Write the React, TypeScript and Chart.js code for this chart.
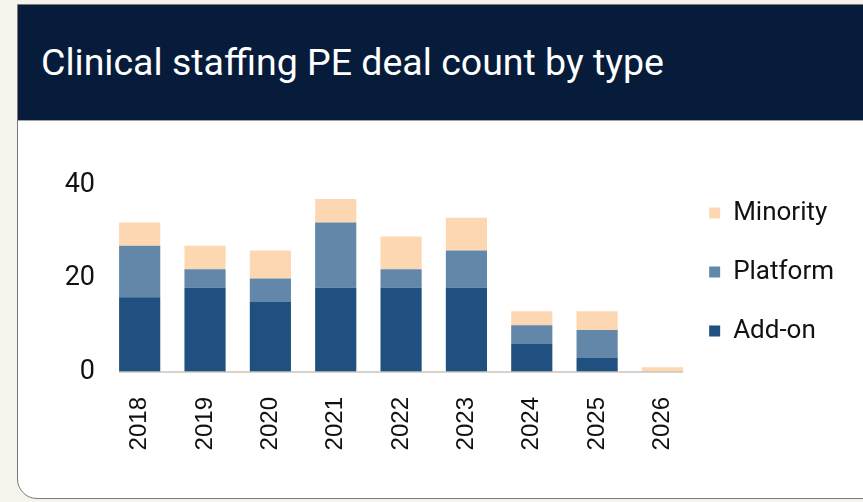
import React, { useEffect, useRef } from "react";
import { Chart, registerables } from "chart.js";

Chart.register(...registerables);

const TITLE = "Clinical staffing PE deal count by type";
const YEARS = ["2018", "2019", "2020", "2021", "2022", "2023", "2024", "2025", "2026"];
const ADD_ON = [16, 18, 15, 18, 18, 18, 6, 3, 0];
const PLATFORM = [11, 4, 5, 14, 4, 8, 4, 6, 0];
const MINORITY = [5, 5, 6, 5, 7, 7, 3, 4, 1];
const Y_TICKS = [0, 20, 40];

const baselinePlugin = {
  id: "baseline",
  afterDatasetsDraw(chart: any) {
    const metas = chart.getSortedVisibleDatasetMetas();
    if (!metas.length) return;
    const els = metas[0].data;
    if (!els.length) return;
    const first = els[0];
    const last = els[els.length - 1];
    const left = first.x - first.width / 2;
    const right = last.x + last.width / 2;
    const y = chart.scales.y.getPixelForValue(0);
    const ctx = chart.ctx;
    ctx.save();
    ctx.strokeStyle = "#c9c4bb";
    ctx.lineWidth = 1.5;
    ctx.beginPath();
    ctx.moveTo(left, y);
    ctx.lineTo(right, y);
    ctx.stroke();
    ctx.restore();
  },
};

const legendShiftPlugin = {
  id: "legendShift",
  afterLayout(chart: any) {
    const lg = chart.legend;
    if (!lg) return;
    const dx = -19;
    const dy = -18;
    lg.left += dx;
    lg.right += dx;
    lg.top += dy;
    lg.bottom += dy;
    if (lg.legendHitBoxes) {
      lg.legendHitBoxes.forEach((b: any) => {
        b.left += dx;
        b.top += dy;
      });
    }
  },
};

export default function App() {
  const ref = useRef<HTMLCanvasElement | null>(null);
  useEffect(() => {
    if (!ref.current) return;
    const chart = new Chart(ref.current, {
      type: "bar",
      data: {
        labels: YEARS,
        datasets: [
          { label: "Add-on", data: ADD_ON, backgroundColor: "#1f5080" },
          { label: "Platform", data: PLATFORM, backgroundColor: "#6287a9" },
          { label: "Minority", data: MINORITY, backgroundColor: "#fdd7b1" },
        ],
      },
      options: {
        animation: false,
        responsive: true,
        maintainAspectRatio: false,
        datasets: { bar: { barPercentage: 0.63, categoryPercentage: 1 } },
        layout: { padding: { left: 0, top: 64, bottom: 0, right: 0 } },
        plugins: {
          title: { display: false },
          tooltip: { enabled: false },
          legend: {
            position: "right",
            align: "start",
            reverse: true,
            labels: {
              boxWidth: 11,
              boxHeight: 11,
              padding: 33,
              color: "#111",
              font: { family: "Roboto", size: 26 },
            },
          },
        },
        scales: {
          x: {
            stacked: true,
            grid: { display: false, drawTicks: false },
            border: { display: false },
            afterFit: (scale: any) => {
              scale.height = 125;
            },
            ticks: {
              maxRotation: 90,
              minRotation: 90,
              padding: 25,
              color: "#111",
              font: { family: "'Liberation Sans', Arial", size: 24 },
            },
          },
          y: {
            stacked: true,
            min: 0,
            max: 40,
            afterBuildTicks: (scale: any) => {
              scale.ticks = Y_TICKS.map((v) => ({ value: v }));
            },
            afterFit: (scale: any) => {
              scale.width = 89;
            },
            grid: { display: false, drawTicks: false },
            border: { display: false },
            ticks: {
              padding: 12,
              color: "#111",
              font: { family: "Roboto", size: 27 },
            },
          },
        },
      },
      plugins: [baselinePlugin, legendShiftPlugin],
    });
    return () => chart.destroy();
  }, []);

  return (
    <div style={{ position: "fixed", inset: 0, background: "#f6f3ec", overflow: "hidden" }}>
      <div
        style={{
          position: "absolute",
          left: 17,
          top: 4,
          width: 900,
          height: 495,
          boxSizing: "border-box",
          border: "1px solid #7a7a7a",
          borderRadius: "0 0 0 20px",
          background: "#ffffff",
          overflow: "hidden",
        }}
      >
        <div
          style={{
            position: "absolute",
            left: 0,
            top: 0,
            right: 0,
            height: 115,
            background: "#061c3a",
            borderBottom: "1.5px solid #a3a3a3",
          }}
        >
          <div
            style={{
              position: "absolute",
              left: 23,
              top: 37,
              color: "#ffffff",
              fontFamily: "Roboto",
              fontWeight: 400,
              fontSize: 37.5,
              lineHeight: "40px",
              whiteSpace: "nowrap",
            }}
          >
            {TITLE}
          </div>
        </div>
        <div style={{ position: "absolute", left: 0, top: 116, width: 845, height: 376 }}>
          <canvas ref={ref} />
        </div>
      </div>
    </div>
  );
}
